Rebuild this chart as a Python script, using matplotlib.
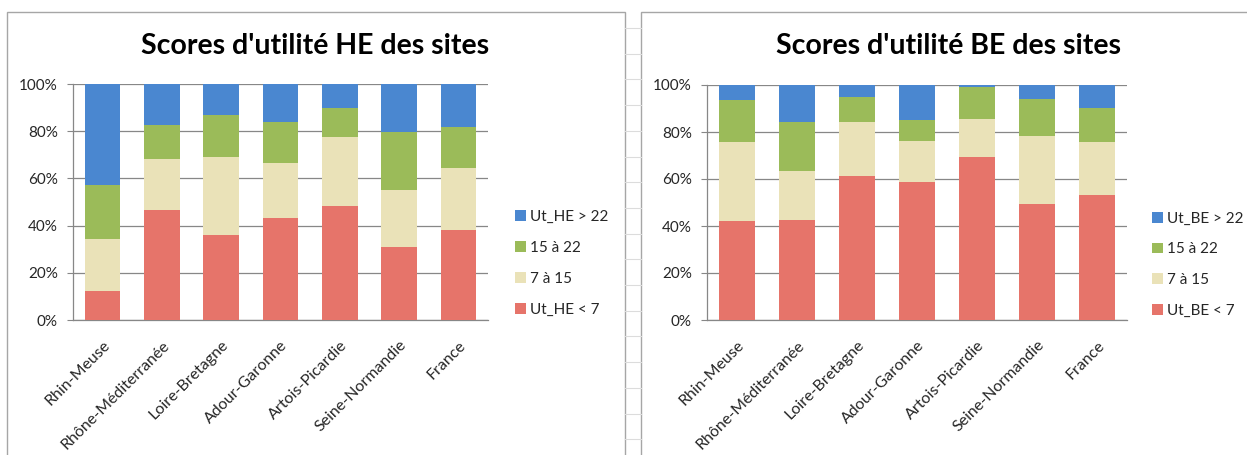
import matplotlib
matplotlib.use("Agg")
import matplotlib.pyplot as plt
import numpy as np
from matplotlib.patches import Rectangle
from matplotlib.lines import Line2D

plt.rcParams['font.family'] = ['Lato', 'DejaVu Sans']

categories = ["Rhin-Meuse", "Rhône-Méditerranée", "Loire-Bretagne", "Adour-Garonne",
              "Artois-Picardie", "Seine-Normandie", "France"]

# HE scores (% of sites per class)
he_lt7 = [12.4, 46.6, 36.2, 43.2, 48.3, 31.1, 38.3]
he_7_15 = [21.8, 21.8, 32.9, 23.2, 29.4, 24.1, 25.9]
he_15_22 = [22.9, 14.2, 17.9, 17.6, 12.1, 24.5, 17.6]
he_gt22 = [42.9, 17.4, 13.0, 16.0, 10.2, 20.3, 18.2]

# BE scores (% of sites per class)
be_lt7 = [42.1, 42.6, 61.1, 58.9, 69.5, 49.2, 53.4]
be_7_15 = [33.6, 20.9, 23.2, 17.1, 16.2, 29.2, 22.4]
be_15_22 = [17.9, 20.9, 10.5, 9.1, 13.3, 15.6, 14.4]
be_gt22 = [6.4, 15.6, 5.2, 14.9, 1.0, 6.0, 9.8]

yticks = [0, 20, 40, 60, 80, 100]
ytick_labels = ["0%", "20%", "40%", "60%", "80%", "100%"]

col_lt7 = "#E6746A"
col_7_15 = "#EAE2B8"
col_15_22 = "#9BBB59"
col_gt22 = "#4A87D0"

W, H = 1247, 455
fig = plt.figure(figsize=(W / 100, H / 100), dpi=100)
fig.patch.set_facecolor("white")

# spreadsheet-like background lines in the gap between the two chart panels
for yy in np.arange(28, 455, 25.7):
    fig.add_artist(Line2D([625 / W, 641 / W], [1 - yy / H, 1 - yy / H], color="#DCDCDC", lw=0.8))

# panel borders
fig.add_artist(Rectangle((7 / W, -0.05), (625 - 7) / W, 1.05 - 12 / H,
                         fill=False, edgecolor="#A6A6A6", lw=1.0))
fig.add_artist(Rectangle((641 / W, -0.05), 1.0, 1.05 - 12 / H,
                         fill=False, edgecolor="#A6A6A6", lw=1.0))


def draw(ax_rect, title, title_x, series, labels, legend_pos):
    ax = fig.add_axes(ax_rect)
    x = np.arange(len(categories))
    bottom = np.zeros(len(categories))
    handles = []
    for vals, col in zip(series, [col_lt7, col_7_15, col_15_22, col_gt22]):
        b = ax.bar(x, vals, 0.6, bottom=bottom, color=col, edgecolor="none", zorder=3)
        bottom += np.array(vals)
        handles.append(b)
    ax.set_xlim(-0.5, len(categories) - 0.5)
    ax.set_ylim(0, 100)
    ax.set_yticks(yticks)
    ax.set_yticklabels(ytick_labels, fontsize=11, color="#262626")
    ax.yaxis.grid(True, color="#878787", lw=0.9, zorder=0)
    ax.set_xticks(x)
    ax.set_xticklabels(categories, rotation=45, ha="right", va="top",
                       rotation_mode="anchor", fontsize=11.5, color="#262626")
    ax.tick_params(axis="x", length=0, pad=13)
    ax.tick_params(axis="y", length=4, color="#878787", pad=7)
    for s in ["top", "right"]:
        ax.spines[s].set_visible(False)
    for s in ["left", "bottom"]:
        ax.spines[s].set_color("#878787")
        ax.spines[s].set_linewidth(0.9)
    fig.text(title_x, 1 - 46 / H, title, ha="center", va="center",
             fontsize=20.5, fontweight="bold", color="black")
    leg = ax.legend(handles[::-1], labels[::-1], loc="center left",
                    bbox_to_anchor=legend_pos, frameon=False, fontsize=11,
                    handlelength=0.7, handleheight=0.7, handletextpad=0.3,
                    labelspacing=1.1, borderaxespad=0)
    for t in leg.get_texts():
        t.set_color("#262626")
    return ax


draw([73 / W, 1 - 320 / H, 415 / W, 236 / H], "Scores d'utilité HE des sites", 315 / W,
     [he_lt7, he_7_15, he_15_22, he_gt22],
     ["Ut_HE < 7", "7 à 15", "15 à 22", "Ut_HE > 22"], (1.05, 0.24))
draw([707 / W, 1 - 320 / H, 420 / W, 235 / H], "Scores d'utilité BE des sites", 948 / W,
     [be_lt7, be_7_15, be_15_22, be_gt22],
     ["Ut_BE < 7", "7 à 15", "15 à 22", "Ut_BE > 22"], (1.045, 0.235))

fig.savefig("out.png", dpi=100)
